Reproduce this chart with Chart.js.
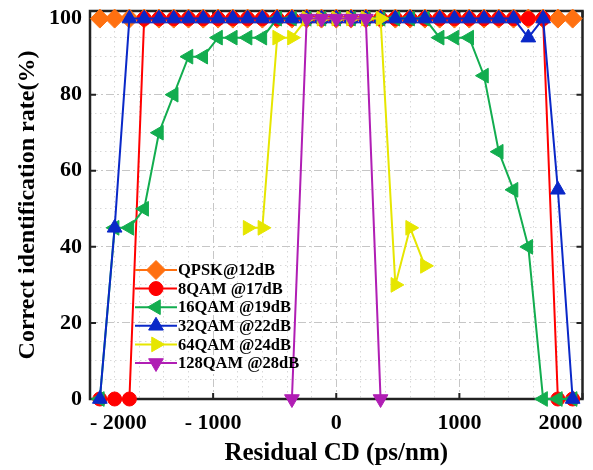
<!DOCTYPE html>
<html>
<head>
<meta charset="utf-8">
<script src="https://cdn.jsdelivr.net/npm/chart.js@4.4.1/dist/chart.umd.min.js"></script>
<style>
  html, body { margin: 0; padding: 0; background: #fff; }
  #wrap { width: 593px; height: 470px; }
</style>
</head>
<body>
<div id="wrap"><canvas id="cdChart" width="593" height="470"></canvas></div>
<script>
// Residual CD sweep (ps/nm)
const cd = [-1920, -1800, -1680, -1560, -1440, -1320, -1200, -1080, -960, -840, -720,
  -600, -480, -360, -240, -120, 0, 120, 240, 360, 480, 600, 720, 840, 960,
  1080, 1200, 1320, 1440, 1560, 1680, 1800, 1920];

// Correct identification rate (%)
const qpsk = [100, 100, 100, 100, 100, 100, 100, 100, 100, 100, 100, 100, 100, 100, 100, 100, 100,
  100, 100, 100, 100, 100, 100, 100, 100, 100, 100, 100, 100, 100, 100, 100, 100];
const qam8 = [0, 0, 0, 100, 100, 100, 100, 100, 100, 100, 100, 100, 100, 100, 100, 100, 100,
  100, 100, 100, 100, 100, 100, 100, 100, 100, 100, 100, 100, 100, 100, 0, 0];
const qam16 = [0, 45, 45, 50, 70, 80, 90, 90, 95, 95, 95, 95, 100, 100, 100, 100, 100,
  100, 100, 100, 100, 100, 100, 95, 95, 95, 85, 65, 55, 40, 0, 0, 0];
const qam32 = [0, 45, 100, 100, 100, 100, 100, 100, 100, 100, 100, 100, 100, 100, 100, 100, 100,
  100, 100, 100, 100, 100, 100, 100, 100, 100, 100, 100, 100, 95, 100, 55, 0];
const qam64 = [null, null, null, null, null, null, null, null, null, null, 45, 45, 95, 95, 100, 100, 100,
  100, 100, 100, 30, 45, 35, null, null, null, null, null, null, null, null, null, null];
const qam128 = [null, null, null, null, null, null, null, null, null, null, null, null, null, 0, 100, 100, 100,
  100, 100, 0, null, null, null, null, null, null, null, null, null, null, null, null, null];

const names = ['QPSK@12dB', '8QAM @17dB', '16QAM @19dB', '32QAM @22dB', '64QAM @24dB', '128QAM @28dB'];
const series = [qpsk, qam8, qam16, qam32, qam64, qam128];

// axis ticks and grid
const xGrid = [-2000, -1800, -1600, -1400, -1200, -1000, -800, -600, -400, -200, 0,
  200, 400, 600, 800, 1000, 1200, 1400, 1600, 1800, 2000];
const xMajor = [-2000, -1000, 0, 1000, 2000];
const yGrid = [0, 5, 10, 15, 20, 25, 30, 35, 40, 45, 50, 55, 60, 65, 70, 75, 80, 85, 90, 95, 100];
const yMajor = [0, 20, 40, 60, 80, 100];

const looks = [
  { color: '#FF7010', style: 'rectRot', rot: 0, r: 9.5 },
  { color: '#FF0000', style: 'circle', rot: 0, r: 7 },
  { color: '#12AD4F', style: 'triangle', rot: -90, r: 8.5 },
  { color: '#0A28C8', style: 'triangle', rot: 0, r: 8.5 },
  { color: '#E6E600', style: 'triangle', rot: 90, r: 8.5 },
  { color: '#B01EB4', style: 'triangle', rot: 180, r: 8.5 }
];

const serif = '"Liberation Serif", "Times New Roman", serif';

const datasets = series.map((vals, i) => ({
  label: names[i],
  data: cd.map((x, j) => ({ x: x, y: vals[j] })),
  borderColor: looks[i].color,
  backgroundColor: looks[i].color,
  pointBackgroundColor: looks[i].color,
  pointBorderColor: looks[i].color,
  pointStyle: looks[i].style,
  pointRotation: looks[i].rot,
  pointRadius: looks[i].r,
  pointBorderWidth: 1,
  borderWidth: 2,
  tension: 0,
  clip: false,
  order: series.length - i
}));

// box round the plot + inward ticks
const framePlugin = {
  id: 'frame',
  beforeDatasetsDraw(chart) {
    const { ctx, chartArea: a, scales: { x, y } } = chart;
    ctx.save();
    ctx.strokeStyle = '#222';
    ctx.lineWidth = 2.5;
    ctx.strokeRect(a.left, a.top, a.right - a.left, a.bottom - a.top);
    ctx.lineWidth = 2;
    ctx.beginPath();
    xMajor.forEach(v => {
      const px = x.getPixelForValue(v);
      ctx.moveTo(px, a.bottom); ctx.lineTo(px, a.bottom - 6);
      ctx.moveTo(px, a.top); ctx.lineTo(px, a.top + 6);
    });
    yMajor.forEach(v => {
      const py = y.getPixelForValue(v);
      ctx.moveTo(a.left, py); ctx.lineTo(a.left + 6, py);
      ctx.moveTo(a.right, py); ctx.lineTo(a.right - 6, py);
    });
    ctx.stroke();
    ctx.restore();
  }
};

// legend inside the plot, line + marker samples
const legendPlugin = {
  id: 'innerLegend',
  afterDatasetsDraw(chart) {
    const { ctx, chartArea: a } = chart;
    ctx.save();
    chart.data.datasets.forEach((ds, i) => {
      const yy = a.top + 259 + i * 18.6;
      const x0 = a.left + 45;
      ctx.strokeStyle = ds.borderColor;
      ctx.fillStyle = ds.borderColor;
      ctx.lineWidth = 2;
      ctx.beginPath();
      ctx.moveTo(x0, yy); ctx.lineTo(x0 + 42, yy);
      ctx.stroke();
      ctx.lineWidth = 1;
      Chart.helpers.drawPoint(ctx, {
        pointStyle: ds.pointStyle, rotation: ds.pointRotation,
        radius: ds.pointRadius, borderWidth: 1
      }, x0 + 21, yy);
      ctx.fillStyle = '#000';
      ctx.font = 'bold 16.5px ' + serif;
      ctx.textBaseline = 'middle';
      ctx.textAlign = 'left';
      ctx.fillText(ds.label, x0 + 43, yy + 1);
    });
    ctx.restore();
  }
};

const isMajorX = v => v % 1000 === 0;
const isMajorY = v => v % 20 === 0;

const cdChart = new Chart(document.getElementById('cdChart'), {
  type: 'line',
  data: { datasets: datasets },
  options: {
    responsive: false,
    animation: false,
    layout: { padding: { top: 11, right: 10, left: 0, bottom: 0 } },
    plugins: { legend: { display: false }, tooltip: { enabled: false } },
    scales: {
      x: {
        type: 'linear', min: -2000, max: 2000,
        afterBuildTicks: s => { s.ticks = xGrid.map(v => ({ value: v })); },
        afterFit: s => { s.height = 71; s.paddingLeft = 0; s.paddingRight = 0; },
        ticks: {
          autoSkip: false, maxRotation: 0, align: 'inner', padding: 11, color: '#000',
          font: { family: serif, size: 22, weight: 'bold' },
          callback: v => isMajorX(v) ? (v < 0 ? '- ' + (-v) : '' + v) : ''
        },
        grid: {
          drawTicks: false, lineWidth: 1,
          color: c => isMajorX(c.tick.value) ? '#c6c6c6' : '#d8d8d8'
        },
        border: {
          display: false,
          dash: c => isMajorX(c.tick.value) ? [8, 3, 2, 3] : [1.5, 3.5]
        },
        title: {
          display: true, text: 'Residual CD (ps/nm)', color: '#000',
          font: { family: serif, size: 25, weight: 'bold', lineHeight: 1 },
          padding: { top: 0, bottom: 4 }
        }
      },
      y: {
        type: 'linear', min: 0, max: 102,
        afterBuildTicks: s => { s.ticks = yGrid.map(v => ({ value: v })); },
        afterFit: s => { s.width = 90; s.paddingTop = 0; s.paddingBottom = 0; },
        ticks: {
          autoSkip: false, padding: 8, color: '#000',
          font: { family: serif, size: 22, weight: 'bold' },
          callback: v => isMajorY(v) ? '' + v : ''
        },
        grid: {
          drawTicks: false, lineWidth: 1,
          color: c => isMajorY(c.tick.value) ? '#c6c6c6' : '#d8d8d8'
        },
        border: {
          display: false,
          dash: c => isMajorY(c.tick.value) ? [8, 3, 2, 3] : [1.5, 3.5]
        },
        title: {
          display: true, text: 'Correct identification rate(%)', color: '#000',
          font: { family: serif, size: 24, weight: 'bold', lineHeight: 1 },
          padding: { top: 16, bottom: 0 }
        }
      }
    }
  },
  plugins: [framePlugin, legendPlugin]
});
</script>
</body>
</html>
